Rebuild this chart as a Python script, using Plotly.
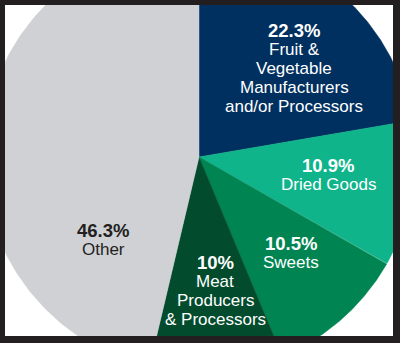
import numpy as np
import plotly.graph_objects as go

# ---- data ----
categories = ["Fruit & Vegetable Manufacturers and/or Processors", "Dried Goods",
              "Sweets", "Meat Producers & Processors", "Other"]
values = [22.3, 10.9, 10.5, 10.0, 46.3]
pct_labels = ["22.3%", "10.9%", "10.5%", "10%", "46.3%"]
name_lines = [["Fruit &", "Vegetable", "Manufacturers", "and/or Processors"],
              ["Dried Goods"], ["Sweets"],
              ["Meat", "Producers", "& Processors"], ["Other"]]

# ---- styles / layout constants ----
colors = ["#00305f", "#10b48b", "#008552", "#024c2d", "#d0d1d5"]
text_colors = ["white", "white", "white", "white", "#231f20"]
W, H = 400, 343
ML, MR, MT, MB = 5, 7, 5, 7
CX, CY, R = 199, 157, 216          # pie centre / radius in pixel units of the axes
LABEL_POS = [(294, 30), (328, 165), (291, 243), (215, 262), (103, 230)]
LINE_GAP = 19
FONT = "Liberation Sans, Arial, Helvetica, sans-serif"

fig = go.Figure()
total = float(sum(values))
start = 0.0
for i, v in enumerate(values):
    span = 360.0 * v / total
    th = np.radians(np.linspace(start, start + span, 200))
    xs = np.concatenate([[CX], CX + R * np.sin(th), [CX]])
    ys = np.concatenate([[CY], CY - R * np.cos(th), [CY]])
    fig.add_trace(go.Scatter(x=xs, y=ys, mode="lines", fill="toself",
                             fillcolor=colors[i], line=dict(color=colors[i], width=0.5),
                             name=categories[i], hoverinfo="name", showlegend=False))
    start += span

annotations = []
for i in range(len(values)):
    x0, y0 = LABEL_POS[i]
    annotations.append(dict(x=x0, y=y0, xref="x", yref="y", text="<b>%s</b>" % pct_labels[i],
                            showarrow=False, xanchor="center", yanchor="middle",
                            font=dict(family=FONT, size=18.5, color=text_colors[i])))
    for j, line in enumerate(name_lines[i]):
        annotations.append(dict(x=x0, y=y0 + LINE_GAP * (j + 1), xref="x", yref="y",
                                text=line.replace("&", "&amp;"), showarrow=False,
                                xanchor="center", yanchor="middle",
                                font=dict(family=FONT, size=17, color=text_colors[i])))

fig.update_layout(
    width=W, height=H,
    margin=dict(l=ML, r=MR, t=MT, b=MB, pad=0),
    paper_bgcolor="#231f20", plot_bgcolor="white",
    xaxis=dict(range=[ML, W - MR], visible=False, fixedrange=True),
    yaxis=dict(range=[H - MB, MT], visible=False, fixedrange=True),
    annotations=annotations,
    showlegend=False,
)
fig.write_html("out.html", config={"displayModeBar": False})
